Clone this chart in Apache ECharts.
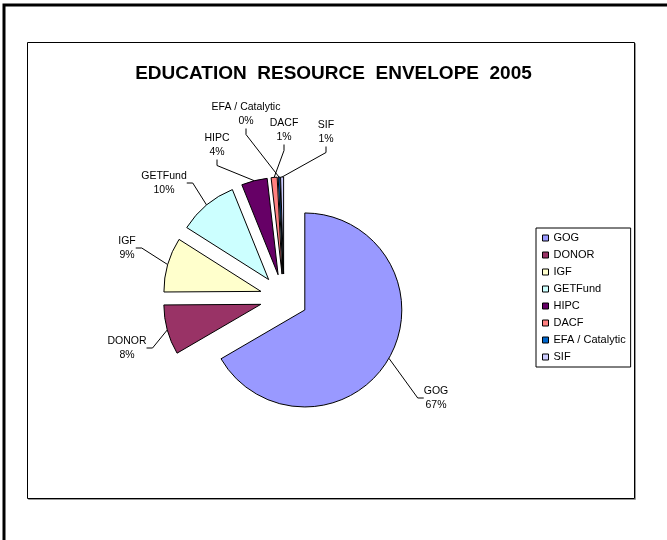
<!DOCTYPE html>
<html>
<head>
<meta charset="utf-8">
<script src="https://cdn.jsdelivr.net/npm/echarts@6/dist/echarts.min.js"></script>
<style>
  html, body { margin: 0; padding: 0; background: #fff; }
  #chart { width: 667px; height: 540px; }
</style>
</head>
<body>
<div id="chart"></div>
<script>
// Education resource envelope 2005: share of funding by source
const categories = ['GOG', 'DONOR', 'IGF', 'GETFund', 'HIPC', 'DACF', 'EFA / Catalytic', 'SIF'];
const shares = [66.6, 8.3, 9.1, 9.9, 4.3, 1.0, 0.3, 0.5];
const colors = ['#9999FF', '#993366', '#FFFFCC', '#CCFFFF', '#660066', '#FF8080', '#0066CC', '#CCCCFF'];
const titleText = 'EDUCATION  RESOURCE  ENVELOPE  2005';

// Where each data label sits (centre of the two-line label)
const labelSpots = {
  'GOG': [436, 398],
  'DONOR': [127, 348],
  'IGF': [127, 248],
  'GETFund': [164, 183],
  'HIPC': [217, 145],
  'DACF': [284, 130],
  'EFA / Catalytic': [246, 114],
  'SIF': [326, 132]
};

const FONT = '"Liberation Sans", Arial, sans-serif';
const PIE_CENTER = [284, 298];
const PIE_RADIUS = 97;
const EXPLODE = 24;

const chart = echarts.init(document.getElementById('chart'), null, { renderer: 'canvas' });

// Each slice is pulled out along its own bisector: one pie series per slice,
// every series carrying the full data so angles and percentages stay shared.
const total = shares.reduce((a, b) => a + b, 0);
let cum = 0;
const series = categories.map((name, i) => {
  const mid = (cum + shares[i] / 2) / total * 2 * Math.PI; // clockwise from 12 o'clock
  cum += shares[i];
  const center = [PIE_CENTER[0] + EXPLODE * Math.sin(mid), PIE_CENTER[1] - EXPLODE * Math.cos(mid)];
  return {
    type: 'pie',
    name: name,
    center: center,
    radius: PIE_RADIUS,
    startAngle: 90,
    clockwise: true,
    percentPrecision: 0,
    avoidLabelOverlap: false,
    silent: true,
    emphasis: { disabled: true, scale: false },
    z: 2,
    data: categories.map((n, j) => j === i ? {
      name: n,
      value: shares[j],
      itemStyle: { color: colors[j], borderColor: '#000', borderWidth: 1 },
      label: {
        show: true,
        position: 'outside',
        formatter: '{b}\n{d}%',
        fontFamily: FONT,
        fontSize: 10.5,
        lineHeight: 14.5,
        color: '#000',
        align: 'center'
      },
      labelLine: { show: true, length: 12, length2: 6, lineStyle: { color: '#000', width: 1 } }
    } : {
      name: n,
      value: shares[j],
      itemStyle: { color: 'rgba(0,0,0,0)', borderWidth: 0 },
      label: { show: false },
      labelLine: { show: false }
    }),
    labelLayout: function (params) {
      const spot = labelSpots[categories[params.dataIndex]];
      if (params.dataIndex !== i || !spot) return {};
      return { x: spot[0], y: spot[1], align: 'center', verticalAlign: 'middle' };
    }
  };
});

chart.setOption({
  animation: false,
  backgroundColor: '#fff',
  title: {
    text: titleText,
    left: 'center',
    top: 59,
    textStyle: { fontFamily: FONT, fontSize: 19, fontWeight: 'bold', color: '#000' }
  },
  legend: {
    orient: 'vertical',
    left: 536,
    top: 228,
    data: categories.map((n, i) => ({
      name: n,
      itemStyle: { color: colors[i], borderColor: '#000', borderWidth: 1 }
    })),
    icon: 'rect',
    itemWidth: 6,
    itemHeight: 6,
    itemGap: 5,
    padding: [4, 5, 4, 6],
    borderColor: '#000',
    borderWidth: 1,
    selectedMode: false,
    textStyle: { fontFamily: FONT, fontSize: 11, lineHeight: 12, color: '#000' }
  },
  graphic: [
    // outer frame
    { type: 'rect', shape: { x: 4, y: 5, width: 720, height: 600 },
      style: { fill: 'none', stroke: '#000', lineWidth: 3 }, silent: true, z: 0 },
    // plot area frame with its soft shadow
    { type: 'rect', shape: { x: 28.5, y: 43.5, width: 607, height: 456 },
      style: { fill: 'none', stroke: '#999', lineWidth: 1 }, silent: true, z: 0 },
    { type: 'rect', shape: { x: 27.5, y: 42.5, width: 607, height: 456 },
      style: { fill: '#fff', stroke: '#000', lineWidth: 1 }, silent: true, z: 0 }
  ],
  series: series
});
</script>
</body>
</html>
